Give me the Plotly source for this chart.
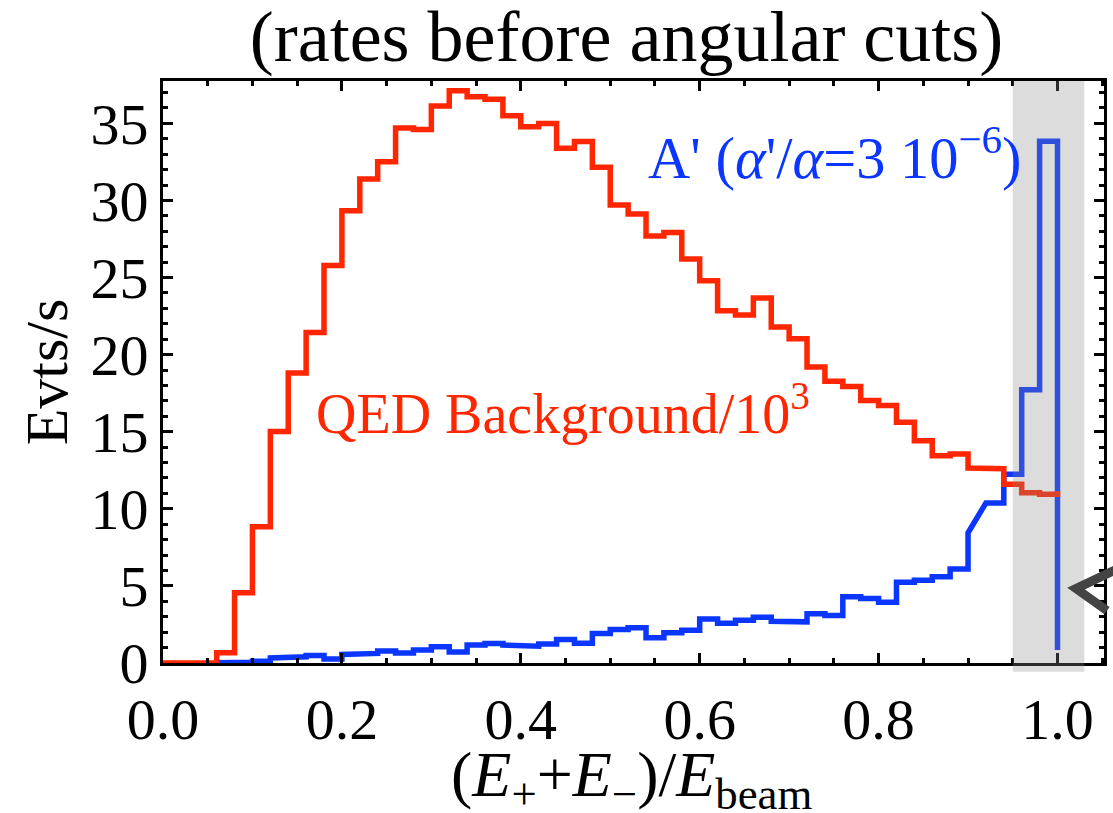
import plotly.graph_objects as go

# ---------------- data ----------------
BIN_WIDTH = 0.02

# QED background (rate / 10^3), left bin edges and heights
qed_edges = [0.00, 0.02, 0.04, 0.06, 0.08, 0.10, 0.12, 0.14, 0.16, 0.18,
             0.20, 0.22, 0.24, 0.26, 0.28, 0.30, 0.32, 0.34, 0.36, 0.38,
             0.40, 0.42, 0.44, 0.46, 0.48, 0.50, 0.52, 0.54, 0.56, 0.58,
             0.60, 0.62, 0.64, 0.66, 0.68, 0.70, 0.72, 0.74, 0.76, 0.78,
             0.80, 0.82, 0.84, 0.86, 0.88, 0.90, 0.92, 0.94, 0.96, 0.98]
qed_rates = [0.0, 0.0, 0.0, 0.66, 4.55, 8.83, 15.02, 18.81, 21.44, 25.78,
             29.33, 31.40, 32.52, 34.70, 34.60, 36.13, 37.12, 36.73, 36.56, 35.50,
             34.79, 35.00, 33.39, 33.82, 32.16, 29.70, 29.13, 27.70, 27.92, 26.20,
             24.79, 22.84, 22.58, 23.67, 21.79, 21.03, 19.20, 18.27, 17.94, 17.03,
             16.71, 15.61, 14.42, 13.45, 13.56, 12.65, 12.60, 11.60, 11.05, 10.95]
qed_end = 11.15

# A' signal (alpha'/alpha = 3e-6), left bin edges and heights
ap_edges = [0.06, 0.08, 0.10, 0.12, 0.14, 0.16, 0.18, 0.20, 0.22, 0.24,
            0.26, 0.28, 0.30, 0.32, 0.34, 0.36, 0.38, 0.40, 0.42, 0.44,
            0.46, 0.48, 0.50, 0.52, 0.54, 0.56, 0.58, 0.60, 0.62, 0.64,
            0.66, 0.68, 0.70, 0.72, 0.74, 0.76, 0.78, 0.80, 0.82, 0.84,
            0.86, 0.88, 0.90, 0.92, 0.94, 0.96, 0.98]
ap_rates = [0.02, 0.05, 0.12, 0.33, 0.40, 0.48, 0.26, 0.55, 0.62, 0.78,
            0.65, 0.85, 1.05, 0.72, 1.16, 1.26, 1.16, 1.09, 1.24, 1.52,
            1.28, 1.91, 2.17, 2.28, 1.63, 1.96, 2.13, 2.86, 2.58, 2.78,
            2.97, 2.71, 2.67, 3.19, 3.08, 4.29, 4.18, 3.94, 5.24, 5.37,
            5.59, 6.10, 8.44, 10.38, 12.25, 17.73, 33.85]
ap_end = 0.85
ap_ramp_edges = [0.90]   # bins whose top is joined straight to the next bin

# highlighted signal window
window = [0.95, 1.03]

X_RANGE = [0.0, 1.052]
Y_RANGE = [0.0, 37.75]

RED = "#ff2600"
BLUE = "#0a36ff"
FONT = "Liberation Serif, Times New Roman, serif"


def step_path(edges, values, width, end_value, ramps=()):
    xs, ys = [], []
    for x0, v in zip(edges, values):
        xs.append(x0)
        ys.append(v)
        if not any(abs(x0 - r) < 1e-9 for r in ramps):
            xs.append(x0 + width)
            ys.append(v)
    xs.append(edges[-1] + width)
    ys.append(end_value)
    return xs, ys


ap_x, ap_y = step_path(ap_edges, ap_rates, BIN_WIDTH, ap_end, ap_ramp_edges)
qed_x, qed_y = step_path(qed_edges, qed_rates, BIN_WIDTH, qed_end)

fig = go.Figure()
fig.add_trace(go.Scatter(x=ap_x, y=ap_y, mode="lines",
                         line=dict(color=BLUE, width=5.5), hoverinfo="skip"))
fig.add_trace(go.Scatter(x=qed_x, y=qed_y, mode="lines",
                         line=dict(color=RED, width=5.5), hoverinfo="skip"))


def to_paper_x(x):
    return (x - X_RANGE[0]) / (X_RANGE[1] - X_RANGE[0])


# translucent band over the signal window
fig.add_shape(type="rect", xref="paper", yref="paper",
              x0=to_paper_x(window[0]), x1=to_paper_x(window[1]),
              y0=-0.015, y1=1.0,
              fillcolor="rgba(138,138,138,0.3)", line=dict(width=0),
              layer="above")

# arrow head at the right edge
fig.add_shape(type="path", xref="paper", yref="paper",
              path="M 1.0127 0.1605 L 0.9703 0.1279 L 1.0032 0.0901",
              line=dict(color="#444444", width=9), layer="above")

axis_common = dict(
    showline=True, linecolor="black", linewidth=3, mirror="allticks",
    ticks="inside", ticklen=10, tickwidth=2.5, tickcolor="black",
    showgrid=False, zeroline=False,
    tickfont=dict(family=FONT, size=58, color="black"),
)

fig.update_xaxes(range=X_RANGE, tick0=0, dtick=0.2, tickformat=".1f",
                 ticklabelstandoff=3,
                 minor=dict(dtick=0.05, ticklen=5, tickwidth=2.5,
                            ticks="inside", tickcolor="black"),
                 **axis_common)
fig.update_yaxes(range=Y_RANGE, tick0=0, dtick=5,
                 minor=dict(dtick=1, ticklen=5, tickwidth=2.5,
                            ticks="inside", tickcolor="black"),
                 **axis_common)

fig.add_annotation(text="QED Background/10<sup>3</sup>", x=0.169, y=16.45,
                   xref="x", yref="y", xanchor="left", yanchor="middle",
                   showarrow=False, font=dict(family=FONT, size=56, color=RED))
fig.add_annotation(text="A' (<i>α</i>'/<i>α</i>=3 10<sup>−6</sup>)",
                   x=0.540, y=33.0, xref="x", yref="y",
                   xanchor="left", yanchor="middle", showarrow=False,
                   font=dict(family=FONT, size=58.5, color=BLUE))

fig.add_annotation(text="Evts/s", x=-0.1229, y=0.5, xref="paper", yref="paper",
                   textangle=-90, xanchor="center", yanchor="middle",
                   showarrow=False, font=dict(family=FONT, size=60, color="black"))
fig.add_annotation(text="(<i>E</i><sub>+</sub>+<i>E</i><sub>−</sub>)/<i>E</i><sub>beam</sub>",
                   x=0.498, y=-0.2, xref="paper", yref="paper",
                   xanchor="center", yanchor="middle", showarrow=False,
                   font=dict(family=FONT, size=64, color="black"))

fig.update_layout(
    width=1113, height=813,
    margin=dict(l=163, r=6, t=81, b=150),
    paper_bgcolor="white", plot_bgcolor="white",
    showlegend=False,
    title=dict(text="(rates before angular cuts)", xref="paper", x=0.4926,
               xanchor="center", yref="container", y=0.956, yanchor="middle",
               font=dict(family=FONT, size=72, color="black")),
)

fig.write_html("out.html")
